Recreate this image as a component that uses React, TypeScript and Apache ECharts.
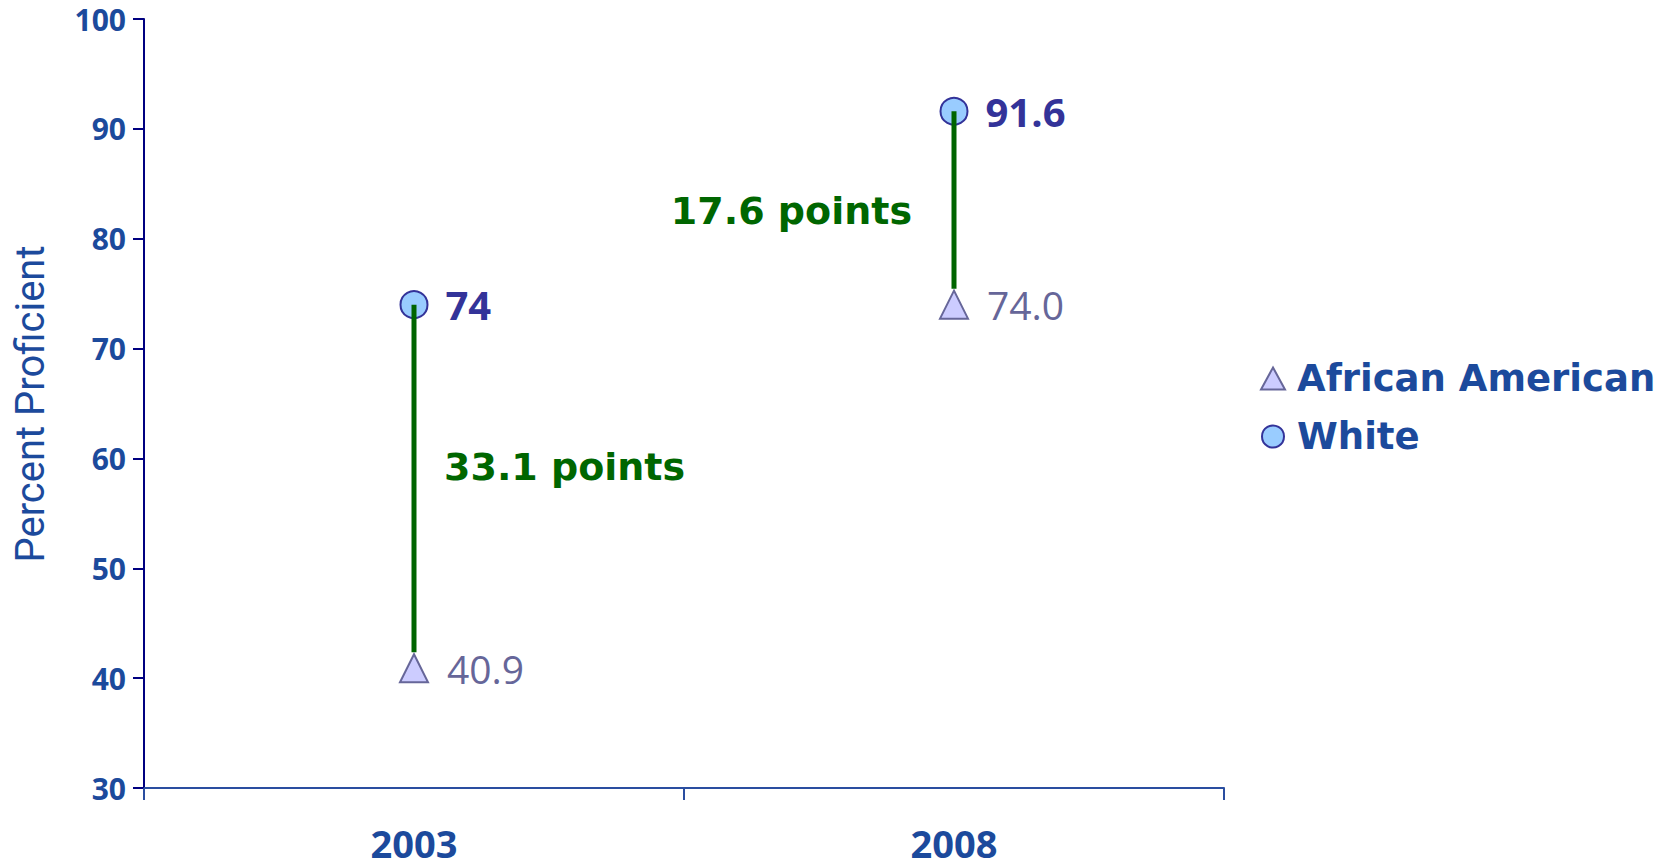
import React, { useEffect, useRef } from "react";
import * as echarts from "echarts";

const categories = ["2003", "2008"];
const whiteValues = [74, 91.6];
const africanAmericanValues = [40.9, 74.0];
const whiteLabels = ["74", "91.6"];
const africanAmericanLabels = ["40.9", "74.0"];
const gapLabels = ["33.1 points", "17.6 points"];
const seriesNames = ["African American", "White"];
const yMin = 30;
const yMax = 100;
const yInterval = 10;

// layout of the gap labels relative to the connector (style, not data)
const gapLayout = [
  { dx: 30, dy: -19, align: "left" },
  { dx: -42, dy: 3, align: "right" },
];

const BLUE = "#1c4a9c";

export default function App() {
  const ref = useRef<HTMLDivElement>(null);
  useEffect(() => {
    document.body.style.margin = "0";
    const chart = echarts.init(ref.current!, undefined, { renderer: "svg" });
    const option: any = {
      animation: false,
      backgroundColor: "#ffffff",
      grid: { left: 144, right: 449, top: 19, bottom: 80 },
      graphic: [
        {
          type: "text",
          x: 30,
          y: 404,
          rotation: Math.PI / 2,
          style: {
            text: "Percent Proficient",
            fill: BLUE,
            fontFamily: "Roboto",
            fontSize: 40,
            align: "center",
            verticalAlign: "middle",
          },
        },
      ],
      legend: {
        orient: "vertical",
        left: 1255,
        top: 355,
        itemWidth: 24,
        itemHeight: 22,
        itemGap: 21,
        data: [
          { name: seriesNames[0], icon: "triangle" },
          { name: seriesNames[1], icon: "circle" },
        ],
        textStyle: {
          fontFamily: "DejaVu Sans",
          fontWeight: "bold",
          fontSize: 37,
          color: BLUE,
          padding: [0, 0, 0, 7],
        },
      },
      xAxis: {
        type: "category",
        data: categories,
        boundaryGap: true,
        axisLine: { lineStyle: { color: "#2a4ea0", width: 2 } },
        axisTick: { show: true, length: 12, lineStyle: { color: "#2a4ea0", width: 2 } },
        axisLabel: {
          margin: 36,
          fontFamily: "Open Sans",
          fontWeight: "bold",
          fontSize: 38,
          lineHeight: 38,
          color: BLUE,
        },
        splitLine: { show: false },
      },
      yAxis: {
        type: "value",
        min: yMin,
        max: yMax,
        interval: yInterval,
        axisLine: { show: true, lineStyle: { color: "#000080", width: 2 } },
        axisTick: { show: true, length: 11, lineStyle: { color: "#000080", width: 2 } },
        axisLabel: {
          margin: 18,
          fontFamily: "Open Sans",
          fontWeight: "bold",
          fontSize: 30,
          color: BLUE,
        },
        splitLine: { show: false },
      },
      series: [
        {
          name: seriesNames[0],
          type: "scatter",
          symbol: "triangle",
          symbolSize: 28,
          data: africanAmericanValues,
          itemStyle: { color: "#ccccff", borderColor: "#666699", borderWidth: 2, opacity: 1 },
          label: {
            show: true,
            position: "right",
            distance: 18,
            formatter: (p: any) => africanAmericanLabels[p.dataIndex],
            fontFamily: "Open Sans",
            fontSize: 39,
            color: "#666699",
          },
          z: 2,
        },
        {
          name: seriesNames[1],
          type: "scatter",
          symbol: "circle",
          symbolSize: 27,
          data: whiteValues,
          itemStyle: { color: "#99ccff", borderColor: "#333399", borderWidth: 2, opacity: 1 },
          label: {
            show: true,
            position: "right",
            distance: 17,
            formatter: (p: any) => whiteLabels[p.dataIndex],
            fontFamily: "Open Sans",
            fontWeight: "bold",
            fontSize: 40,
            color: "#333399",
          },
          z: 2,
        },
        {
          type: "custom",
          silent: true,
          z: 5,
          data: categories.map((_, i) => [i, whiteValues[i], africanAmericanValues[i]]),
          encode: { x: 0, y: [1, 2] },
          renderItem: (params: any, api: any) => {
            const i = params.dataIndex;
            const top = api.coord([api.value(0), api.value(1)]);
            const bot = api.coord([api.value(0), api.value(2)]);
            const lay = gapLayout[i];
            return {
              type: "group",
              children: [
                {
                  type: "line",
                  shape: { x1: top[0], y1: top[1], x2: bot[0], y2: bot[1] - 16 },
                  style: { stroke: "#006400", lineWidth: 5 },
                },
                {
                  type: "text",
                  x: top[0] + lay.dx,
                  y: (top[1] + bot[1]) / 2 + lay.dy,
                  style: {
                    text: gapLabels[i],
                    fill: "#006600",
                    fontFamily: "DejaVu Sans",
                    fontWeight: "bold",
                    fontSize: 38,
                    align: lay.align,
                    verticalAlign: "middle",
                  },
                },
              ],
            };
          },
        },
      ],
    };
    chart.setOption(option);
    return () => chart.dispose();
  }, []);
  return <div ref={ref} style={{ width: 1673, height: 868 }} />;
}
